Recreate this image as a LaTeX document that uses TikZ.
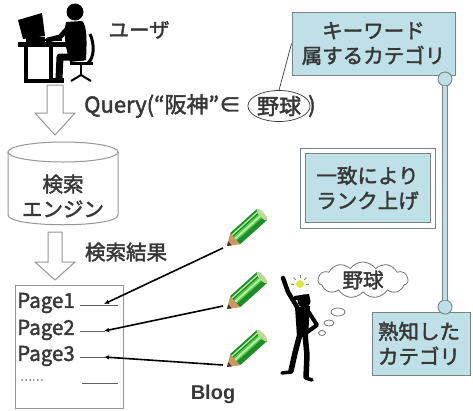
\documentclass[tikz,border=0pt]{standalone}
\usepackage{fontspec}
\setmainfont{Noto Sans CJK JP}[FakeBold=2]
\newfontfamily\latinsans{Liberation Sans}
\usetikzlibrary{shapes.geometric,shapes.symbols,arrows.meta,calc}

\definecolor{boxblue}{RGB}{190,224,230}
\definecolor{boxline}{RGB}{118,132,135}
\definecolor{ink}{RGB}{55,55,55}
\definecolor{hollowgray}{RGB}{150,150,150}
\definecolor{pencildark}{RGB}{30,140,40}
\definecolor{pencilgreen}{RGB}{80,200,70}
\definecolor{pencillight}{RGB}{180,240,160}
\definecolor{pencilwood}{RGB}{205,150,95}
\definecolor{pencillead}{RGB}{70,50,40}
\definecolor{pencilend}{RGB}{190,215,150}
\definecolor{bulb}{RGB}{215,235,70}

\tikzset{
  txt/.style={text=ink, inner sep=0pt, font=\fontsize{20.5}{25}\selectfont},
  bigtxt/.style={text=ink, inner sep=0pt, font=\fontsize{22}{26}\selectfont},
  catbox/.style={txt, draw=boxline, fill=boxblue, line width=0.9pt, align=center},
  knob/.style={circle, draw=boxline, fill=boxblue, line width=0.9pt, minimum size=14pt, inner sep=0pt},
  rail/.style={draw=boxline, line width=0.8pt, double=boxblue, double distance=4.5pt},
  hollow/.style={draw=hollowgray, fill=white, line width=1pt, line join=miter},
  pagelink/.style={draw=black, line width=1.6pt, -{Latex[length=5pt,width=4.5pt]}},
  pageline/.style={draw=ink!80, line width=0.8pt},
  pencil/.pic={
    % sharpened wood cone and lead
    \fill[pencilwood] (0,0) -- (11,-7.5) -- (11,7.5) -- cycle;
    \fill[pencillead] (0,0) -- (4,-2.7) -- (4,2.7) -- cycle;
    % barrel in three bands
    \fill[pencildark] (11,-7.5) rectangle (47,-2.5);
    \fill[pencilgreen] (11,-2.5) rectangle (47,2.5);
    \fill[pencildark] (11,2.5) rectangle (47,7.5);
    \fill[pencillight] (11,-1) rectangle (47,1);
    \fill[pencillight] (11,-5.5) rectangle (47,-4.2);
    % cut end of the barrel
    \fill[pencilend] (47,0) ellipse [x radius=2.5pt, y radius=7.5pt];
  }
}

\begin{document}
\begin{tikzpicture}[x=1pt,y=-1pt]
\useasboundingbox (0,0) rectangle (473,410);
\fill[white] (0,0) rectangle (473,410);

% ---- user at the computer ----
\begin{scope}[black]
  % monitor
  \fill (18,20) -- (42,13) -- (45,36) -- (23,39) -- cycle;
  \fill (26,37) rectangle (45,42);
  % desk
  \fill (18,42) rectangle (66,47);
  \draw[line width=3.5pt] (26,47) -- (26,81) -- (51,81) -- (51,47);
  % keyboard
  \draw[line width=1.5pt] (45,40) -- (62,40);
  % person
  \fill (75,12) circle (8.5pt);
  \fill (66,22) -- (82,21) .. controls (87,25) and (87,40) .. (86,60)
        -- (70,62) .. controls (66,50) and (63,35) .. (66,22) -- cycle;
  \draw[line width=5pt, line cap=round, line join=round] (68,28) -- (60,37) -- (48,40);
  \draw[line width=7pt, line join=round] (84,57) -- (60,57) -- (59,79);
  \fill (52,78) rectangle (64,83);
  % chair
  \draw[line width=3pt] (90,34) .. controls (95,45) and (94,58) .. (88,63);
  \draw[line width=3pt] (70,63.5) -- (93,63.5);
  \draw[line width=2.5pt] (81,64) -- (81,75);
  \draw[line width=2pt] (71,81) -- (81,75) -- (91,81);
\end{scope}
\node[txt] (user) at (139,30) {ユーザ};

% ---- query ----
\draw[hollow] (47,85) -- (63,85) -- (63,113) -- (75,113) -- (55,135) -- (35,113) -- (47,113) -- cycle;
\node[bigtxt, anchor=west] (query) at (84,106) {Query(“阪神”∈};
\node[bigtxt, ellipse, draw=ink, line width=0.7pt, minimum width=55pt, minimum height=31pt] (qcat) at (279,106) {野球};
\node[bigtxt, anchor=west] (qclose) at (308,106) {)};

% ---- search engine ----
\draw[hollowgray, line width=1pt, fill=white]
  (8,152) -- (8,215) .. controls (8,228) and (118,228) .. (118,215) -- (118,152);
\draw[hollowgray, line width=1pt] (63,152) ellipse [x radius=55pt, y radius=10pt];
\node[txt, align=center] (engine) at (63,196) {検索\\エンジン};

% ---- results ----
\draw[hollow] (48,232) -- (62,232) -- (62,262) -- (75,262) -- (55,280) -- (35,262) -- (48,262) -- cycle;
\node[txt] (results) at (126,252) {検索結果};
\draw[hollowgray, line width=1pt] (15,285) rectangle (123,408);
\node[txt, anchor=west] (page1) at (17,303) {Page1};
\node[txt, anchor=west] (page2) at (17,330) {Page2};
\node[txt, anchor=west] (page3) at (17,356) {Page3};
\node[txt, anchor=west, text=gray, font=\fontsize{11}{12}\selectfont] (more) at (20,380) {……};
\draw[pageline] (80,305) -- (118,305);
\draw[pageline] (80,331) -- (105,331);
\draw[pageline] (80,357) -- (105,357);
\draw[pageline] (82,383) -- (118,383);
\coordinate (hit1) at (104,304);
\coordinate (hit2) at (104,331);
\coordinate (hit3) at (104,357);

% ---- blogs ----
\coordinate (tip1) at (223,248);
\coordinate (tip2) at (223,306);
\coordinate (tip3) at (223,365);
\draw[pagelink] (tip1) -- (hit1);
\draw[pagelink] (tip2) -- (hit2);
\draw[pagelink] (tip3) -- (hit3);
\pic[rotate=42] at (227,246) {pencil};
\pic[rotate=42] at (227,309) {pencil};
\pic[rotate=42] at (227,367) {pencil};
\node[txt, font=\latinsans\bfseries\fontsize{20}{22}\selectfont] (blog) at (213,394) {Blog};

% ---- reader who knows the category ----
\begin{scope}[black, line cap=round, line join=round]
  \draw[line width=4.5pt] (283,278) -- (288,292) -- (297,307);
  \fill (304,301) circle (6.5pt);
  \fill (294,296) -- (309,294) -- (310,299) -- (294,300) -- cycle;
  \fill (295,307) -- (310,306) -- (308,337) -- (297,337) -- cycle;
  \draw[line width=4pt] (308,311) -- (317,325) -- (306,333);
  \draw[line width=5.5pt] (300,334) -- (295,353) -- (291,371);
  \draw[line width=3.5pt] (291,372) -- (282,373);
  \draw[line width=5.5pt] (305,334) -- (307,355) -- (306,377);
  \draw[line width=3.5pt] (306,378) -- (312,380);
\end{scope}
\fill[bulb] (300,284) circle (4pt);
\foreach \a in {0,45,90,135,180}
  \draw[gray, line width=1pt] ($(300,284)+(\a:6pt)$) -- ($(300,284)+(\a:9pt)$);
\node[txt, cloud, cloud puffs=11, cloud puff arc=110, aspect=2.6, draw=ink!70, line width=0.8pt, minimum width=90pt, minimum height=36pt] (thought) at (363,280) {野球};
\node[ellipse, draw=ink!70, line width=0.8pt, minimum width=14pt, minimum height=8pt, inner sep=0pt] (bub1) at (338,312) {};
\node[ellipse, draw=ink!70, line width=0.8pt, minimum width=10pt, minimum height=6pt, inner sep=0pt] (bub2) at (329,323) {};
\node[ellipse, draw=ink!70, line width=0.8pt, minimum width=7pt, minimum height=5pt, inner sep=0pt] (bub3) at (322,333) {};

% ---- category boxes ----
\node[catbox, minimum width=163pt, minimum height=63pt] (kw) at (373.5,43.5) {キーワード\\属するカテゴリ};
\draw[ink, line width=0.7pt] (qcat.north) -- (kw.west);
\node[draw=boxline, line width=0.9pt, fill=white, minimum width=135pt, minimum height=80pt] (rankframe) at (367.5,188) {};
\node[catbox, minimum width=125pt, minimum height=69pt] (rank) at (367.5,188) {一致により\\ランク上げ};
\node[catbox, align=left, minimum width=98pt, minimum height=63pt, text width=86pt] (known) at (421,343.5) {熟知した\\カテゴリ};
\node[knob] (k1) at (445,79) {};
\node[knob] (k2) at (445,307) {};
\draw[rail] (k1) -- (k2);
\end{tikzpicture}
\end{document}
